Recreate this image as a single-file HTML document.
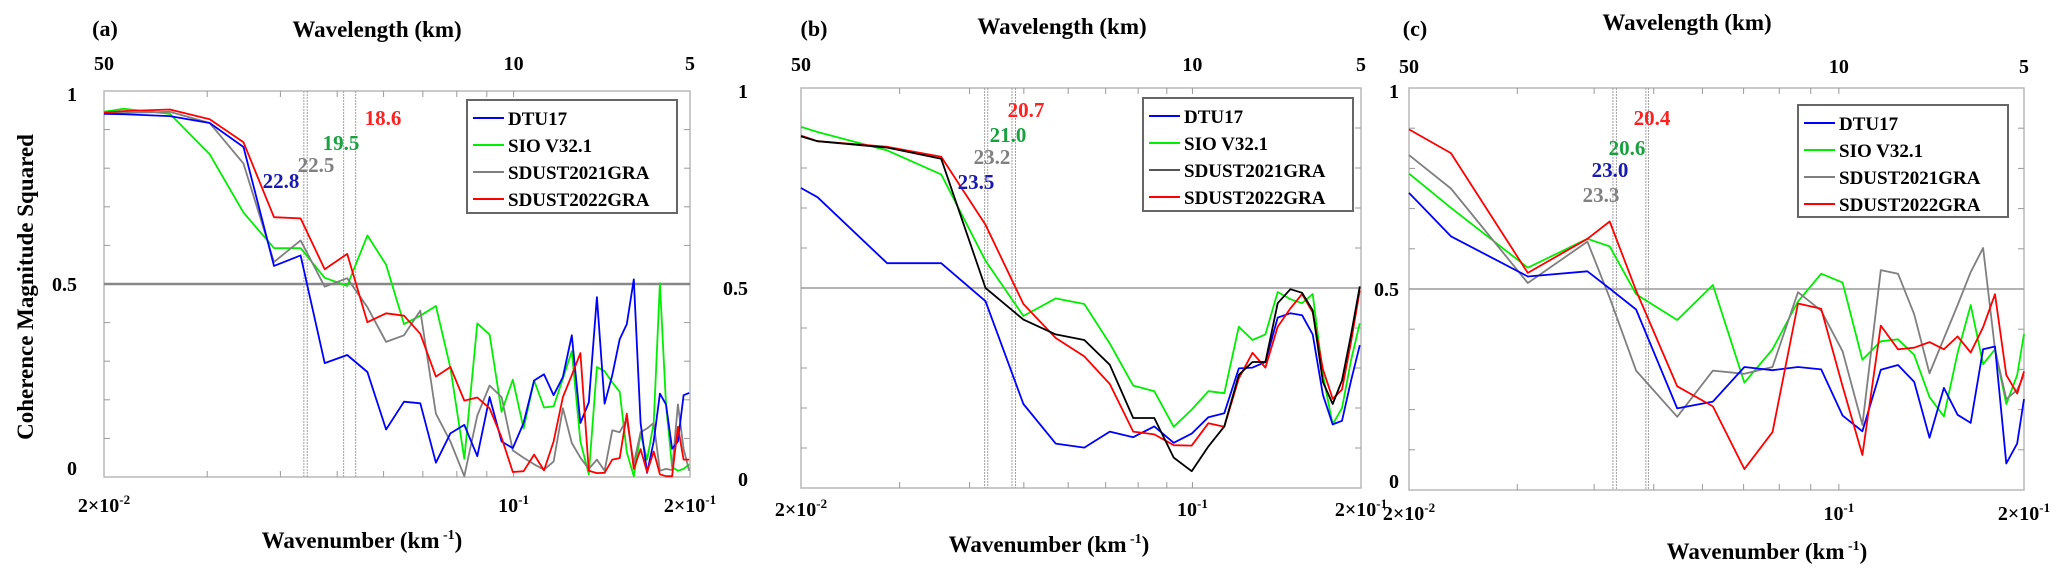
<!DOCTYPE html>
<html><head><meta charset="utf-8"><style>
html,body{margin:0;padding:0;background:#fff;}
svg{display:block;font-family:"Liberation Serif","DejaVu Serif",serif;font-weight:bold;}
</style></head><body>
<svg id="fig" width="2067" height="576" viewBox="0 0 2067 576" xmlns="http://www.w3.org/2000/svg"></svg>
<script>
// ---------- Panel (a) data ----------
const kA=[0.02,0.0216,0.0259,0.0303,0.0346,0.0390,0.0433,0.0476,0.0520,0.0563,0.0606,0.0650,0.0693,0.0737,0.0780,0.0824,0.0867,0.0910,0.0954,0.0997,0.1040,0.1084,0.1127,0.1170,0.1214,0.1257,0.1300,0.1344,0.1387,0.1430,0.1474,0.1517,0.1560,0.1604,0.1647,0.1690,0.1734,0.1777,0.1820,0.1864,0.1907,0.1950,0.1994];
const aDTU=[.941,.94,.935,.917,.855,.547,.574,.295,.316,.272,.123,.195,.191,.037,.113,.135,.054,.207,.092,.075,.14,.25,.266,.212,.259,.367,.14,.193,.466,.19,.264,.357,.396,.512,.14,.011,.092,.216,.188,.073,.092,.212,.218];
const aSIO=[.946,.954,.941,.836,.685,.593,.593,.516,.495,.626,.55,.396,.418,.443,.283,.047,.398,.369,.169,.252,.126,.25,.18,.183,.255,.326,.092,.007,.285,.274,.245,.221,.064,.002,.112,.045,.14,.502,.188,.026,.016,.021,.033];
const a2021=[.943,.943,.946,.917,.812,.557,.613,.493,.515,.44,.35,.367,.431,.164,.092,.002,.159,.237,.207,.069,.05,.033,.019,.04,.178,.088,.05,.021,.045,.016,.121,.116,.15,.035,.116,.126,.14,.016,.021,.018,.188,.073,.016];
const a2022=[.944,.948,.952,.927,.867,.673,.670,.538,.578,.401,.424,.418,.371,.260,.285,.198,.206,.178,.102,.013,.015,.058,.017,.092,.207,.264,.321,.016,.010,.011,.045,.049,.164,.021,.072,.013,.066,.007,.002,.002,.13,.045,.045];
const aLambda=[22.8,22.5,19.5,18.6];
// ---------- Panel (b) data ----------
const kB=[0.02,0.0214,0.0285,0.0356,0.0427,0.0499,0.0570,0.0641,0.0712,0.0784,0.0855,0.0926,0.0997,0.1068,0.114,0.121,0.128,0.135,0.142,0.1496,0.157,0.164,0.171,0.178,0.185,0.192,0.199];
const bDTU=[.75,.727,.562,.562,.467,.21,.111,.101,.141,.127,.154,.113,.136,.177,.187,.299,.301,.315,.426,.437,.432,.384,.233,.159,.168,.269,.357];
const bSIO=[.903,.89,.844,.784,.568,.43,.474,.46,.361,.256,.242,.153,.196,.242,.237,.403,.37,.384,.49,.472,.462,.485,.283,.159,.2,.32,.412];
const b2021=[.879,.867,.851,.823,.5,.421,.384,.37,.308,.175,.175,.076,.042,.104,.154,.283,.315,.315,.462,.497,.488,.444,.265,.21,.269,.384,.504];
const b2022=[.881,.867,.853,.828,.658,.46,.375,.329,.26,.141,.134,.107,.106,.162,.153,.274,.338,.301,.403,.449,.485,.439,.297,.223,.246,.366,.494];
const bLambda=[23.5,23.2,21.0,20.7];
// ---------- Panel (c) data ----------
const kC=[0.02,0.0234,0.0312,0.039,0.0424,0.0468,0.0546,0.0624,0.0702,0.078,0.0858,0.0936,0.1014,0.1092,0.117,0.1248,0.1326,0.1404,0.1482,0.156,0.1638,0.1716,0.1794,0.1872,0.195,0.2];
const cDTU=[.739,.631,.531,.544,.501,.449,.203,.22,.306,.298,.306,.3,.185,.146,.299,.311,.269,.13,.254,.187,.167,.35,.357,.066,.116,.226];
const cSIO=[.787,.702,.553,.625,.606,.487,.423,.51,.267,.35,.469,.538,.516,.324,.37,.375,.336,.231,.183,.341,.46,.313,.35,.214,.286,.388];
const c2021=[.833,.75,.515,.618,.478,.297,.182,.297,.289,.306,.492,.446,.345,.162,.547,.538,.437,.29,.377,.46,.542,.602,.35,.226,.249,.286];
const c2022=[.897,.838,.54,.625,.668,.496,.258,.208,.052,.144,.464,.451,.258,.087,.409,.35,.354,.368,.35,.382,.342,.405,.487,.286,.24,.295];
const cLambda=[23.0,23.3,20.6,20.4];
const legendNames=["DTU17","SIO V32.1","SDUST2021GRA","SDUST2022GRA"];

const NS="http://www.w3.org/2000/svg";
const svg=document.getElementById('fig');
function mk(tag,attrs,parent){const e=document.createElementNS(NS,tag);for(const k in attrs)e.setAttribute(k,attrs[k]);(parent||svg).appendChild(e);return e;}

const panels=[
 {id:'a',L:104,R:690,T:91,B:477,k:kA,series:[aSIO,a2021,aDTU,a2022],cols:['#00ee00','#7f7f7f','#0000ff','#ff0000'],lam:aLambda,
  ann:[[281,181,'#1a1ab0'],[316,165,'#808080'],[341,143,'#1aa040'],[383,118,'#ff2020']],
  leg:[467,100,210,113],ylOff:27,lab:[105,28],wl:[377,29],wlTick:63,wn:[362,540],wnTick:505,hw:2.5,hc:'#888'},
 {id:'b',L:801,R:1361,T:88,B:488,k:kB,series:[bSIO,bDTU,b2022,b2021],cols:['#00ee00','#0000ff','#ff0000','#000000'],lam:bLambda,
  ann:[[976,182,'#1a1ab0'],[992,157,'#808080'],[1008,135,'#1aa040'],[1026,110,'#ff2020']],
  leg:[1143,98,210,113],ylOff:53,lab:[814,28],wl:[1062,26],wlTick:64,wn:[1049,544],wnTick:509,hw:1.5,hc:'#9a9a9a'},
 {id:'c',L:1409,R:2024,T:88,B:490,k:kC,series:[cSIO,c2021,cDTU,c2022],cols:['#00ee00','#7f7f7f','#0000ff','#ff0000'],lam:cLambda,
  ann:[[1610,170,'#1a1ab0'],[1601,195,'#808080'],[1627,148,'#1aa040'],[1652,118,'#ff2020']],
  leg:[1798,105,210,112],ylOff:10,lab:[1415,28],wl:[1687,22],wlTick:66,wn:[1767,551],wnTick:513,hw:1.5,hc:'#9a9a9a'}
];
const legCols={a:['#0000ff','#00ee00','#7f7f7f','#ff0000'],b:['#0000ff','#00ee00','#555555','#ff0000'],c:['#0000ff','#00ee00','#7f7f7f','#ff0000']};
const names={a:[ 'sio','sdust2021','dtu17','sdust2022'],b:['sio','dtu17','sdust2022','sdust2021'],c:['sio','sdust2021','dtu17','sdust2022']};

panels.forEach(p=>{
  const g=mk('g',{});
  
  
  const xs=k=>p.L+(p.R-p.L)*Math.log10(k/0.02);
  const ys=v=>p.B-(p.B-p.T)*v;
  const fr=mk('rect',{x:p.L,y:p.T,width:p.R-p.L,height:p.B-p.T,fill:'none',stroke:'#b8b8b8','stroke-width':1.5},g);
  
  
  for(let i=1;i<10;i++){
    const y=ys(i/10);
    mk('line',{x1:p.L,x2:p.L+6,y1:y,y2:y,stroke:'#999'},g);
    mk('line',{x1:p.R,x2:p.R-6,y1:y,y2:y,stroke:'#999'},g);
  }
  [0.03,0.04,0.05,0.06,0.07,0.08,0.09,0.1].forEach(k=>{
    const x=xs(k);
    mk('line',{x1:x,x2:x,y1:p.B,y2:p.B-6,stroke:'#999'},g);
    mk('line',{x1:x,x2:x,y1:p.T,y2:p.T+6,stroke:'#999'},g);
  });
  const hl=mk('line',{x1:p.L,x2:p.R,y1:ys(0.5),y2:ys(0.5),stroke:p.hc,'stroke-width':p.hw},g);
  
  
  p.lam.forEach(l=>{
    const x=xs(1/l);
    const vl=mk('line',{x1:x,x2:x,y1:p.T,y2:p.B,stroke:'#a0a0a0','stroke-width':1,'stroke-dasharray':'2,1'},g);
    
    
  });
  p.series.forEach((s,si)=>{
    const d=s.map((v,i)=>(i?'L':'M')+xs(p.k[i]).toFixed(1)+','+ys(v).toFixed(1)).join('');
    const pa=mk('path',{d:d,fill:'none',stroke:p.cols[si],'stroke-width':1.8,'stroke-linejoin':'round'},g);
    
    
  });
  p.lam.forEach((l,i)=>{
    const a=p.ann[i];
    const t=mk('text',{x:a[0],y:a[1]+7,'text-anchor':'middle','font-size':21,fill:a[2]},g);
    t.textContent=l.toFixed(1);
    
    
  });
  [[1,'1'],[0.5,'0.5'],[0,'0']].forEach(([v,s])=>{
    const t=mk('text',{x:p.L-p.ylOff,y:ys(v)+(v===0?-2:v===1?10:7),'text-anchor':'end','font-size':20},g);
    t.textContent=s;
    
    
  });
  [[0.02,'2×10','-2'],[0.1,'10','-1'],[0.2,'2×10','-1']].forEach(([k,b,e])=>{
    const t=mk('text',{x:xs(k),y:p.wnTick+7,'text-anchor':'middle','font-size':20},g);
    
    
    const t1=mk('tspan',{},t);t1.textContent=b;
    const t2=mk('tspan',{dy:-8,'font-size':13},t);t2.textContent=e;
  });
  [[0.02,'50'],[0.1,'10'],[0.2,'5']].forEach(([k,s])=>{
    const t=mk('text',{x:xs(k),y:p.wlTick+7,'text-anchor':'middle','font-size':20},g);
    t.textContent=s;
    
    
  });
  const pl=mk('text',{x:p.lab[0],y:p.lab[1]+8,'text-anchor':'middle','font-size':22},g);
  pl.textContent='('+p.id+')';
  
  
  const wt=mk('text',{x:p.wl[0],y:p.wl[1]+8,'text-anchor':'middle','font-size':23},g);
  wt.textContent='Wavelength (km)';
  
  
  const bt=mk('text',{x:p.wn[0],y:p.wn[1]+8,'text-anchor':'middle','font-size':23},g);
  
  
  const b1=mk('tspan',{},bt);b1.textContent='Wavenumber (km';
  const b2=mk('tspan',{dy:-9,'font-size':14},bt);b2.textContent=' -1';
  const b3=mk('tspan',{dy:9},bt);b3.textContent=')';
  const [lx,ly,lw,lh]=p.leg;
  const lg=mk('g',{},g);
  
  
  mk('rect',{x:lx,y:ly,width:lw,height:lh,fill:'#fff',stroke:'#666','stroke-width':2},lg);
  legendNames.forEach((n,i)=>{
    const y=ly+18+i*27;
    mk('line',{x1:lx+6,x2:lx+37,y1:y,y2:y,stroke:legCols[p.id][i],'stroke-width':2},lg);
    const t=mk('text',{x:lx+41,y:y+7,'font-size':19},lg);
    t.textContent=n;
    
    
  });
});
const yt=mk('text',{x:0,y:0,'text-anchor':'middle','font-size':23,transform:'translate(33,287) rotate(-90)'});
yt.textContent='Coherence Magnitude Squared';


</script>
</body></html>
